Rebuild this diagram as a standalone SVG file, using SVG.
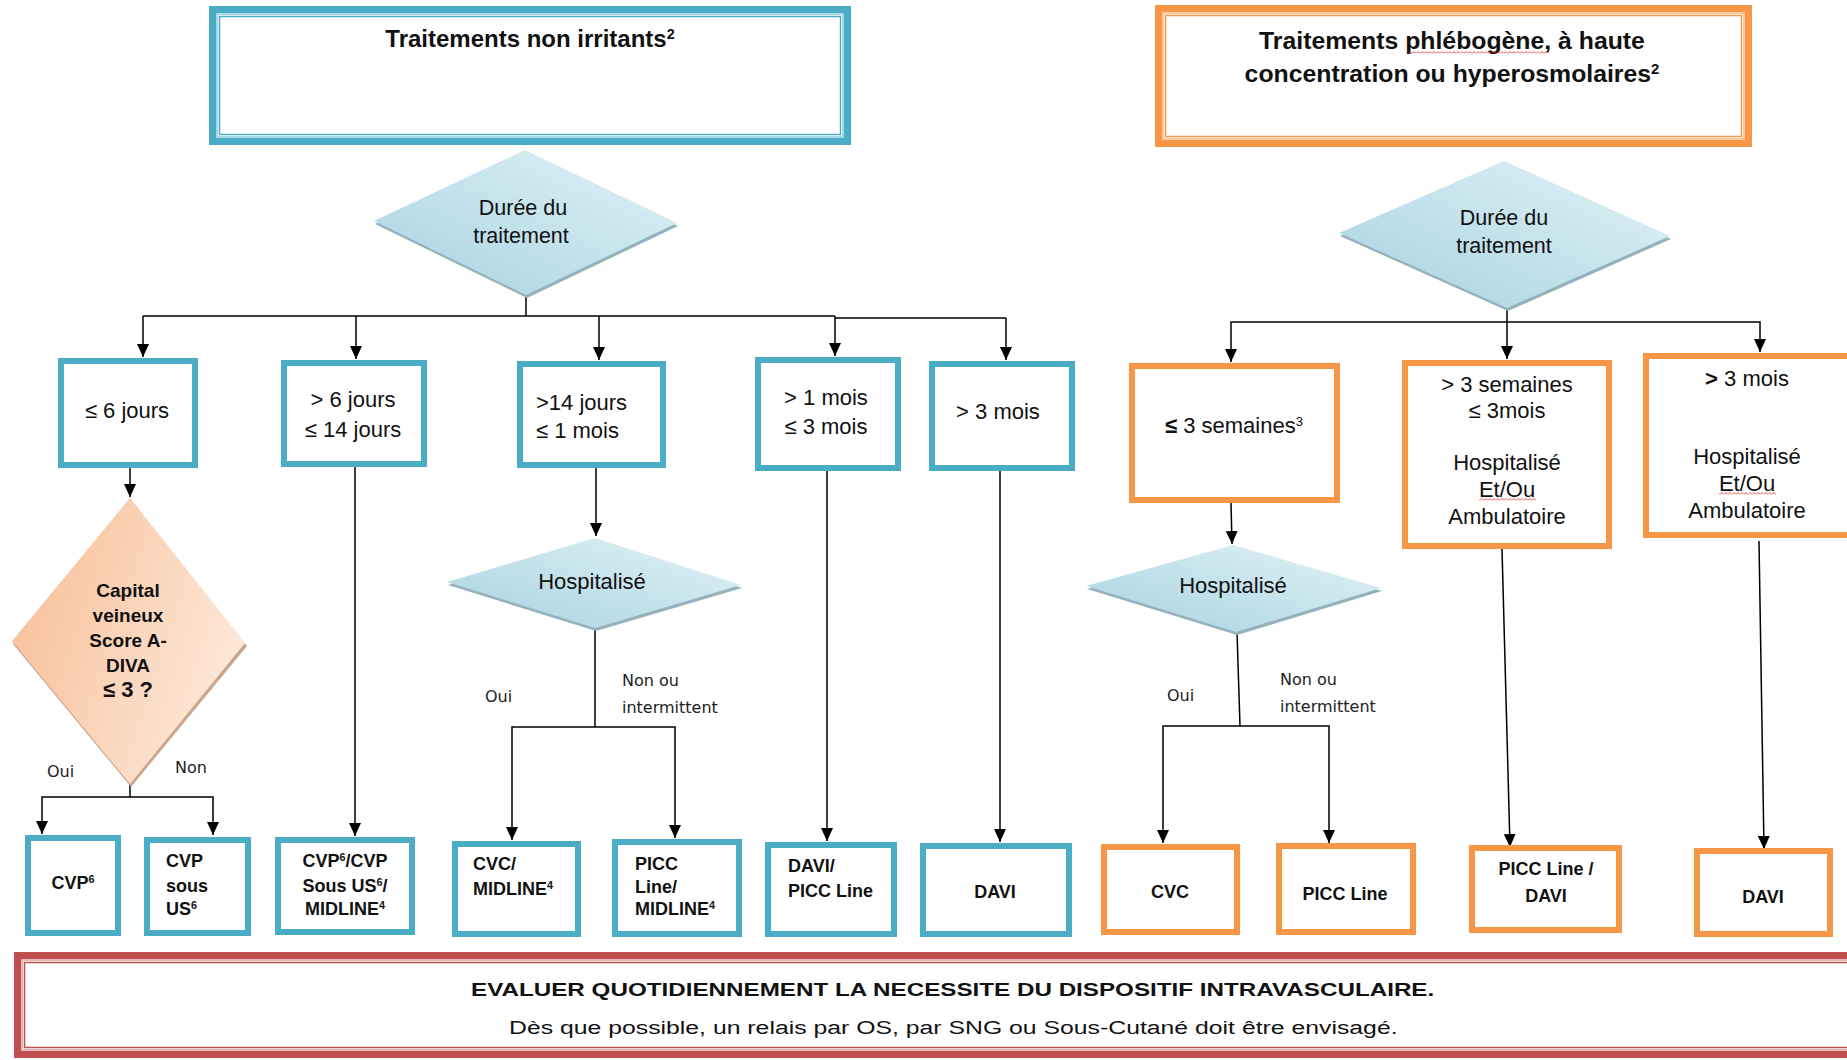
<svg xmlns="http://www.w3.org/2000/svg" width="1847" height="1060" viewBox="0 0 1847 1060">
<style>
.t{font-family:"Liberation Sans",Arial,sans-serif;fill:#111;text-anchor:middle}
.b{font-weight:bold}
.s{text-anchor:start}
.lbl{font-family:"DejaVu Sans",sans-serif;font-size:16px;fill:#222}
.bx{fill:#fff;stroke:#4BACC6;stroke-width:6}
.bo{fill:#fff;stroke:#F79646;stroke-width:6}
.con{fill:none;stroke:#000;stroke-width:1.5}
.arr{marker-end:url(#ah)}
.sup{font-size:60%;baseline-shift:super}
</style>
<defs>
<marker id="ah" markerUnits="userSpaceOnUse" markerWidth="13" markerHeight="12" viewBox="0 0 13 12" refX="13" refY="6" orient="auto">
<path d="M0,0 L13,6 L0,12 Z" fill="#000"/>
</marker>
<linearGradient id="gb" x1="0" y1="1" x2="1" y2="0">
<stop offset="0" stop-color="#A6D3E0"/><stop offset="1" stop-color="#E3F2F7"/>
</linearGradient>
<linearGradient id="gp" x1="0" y1="0.3" x2="1" y2="0.7">
<stop offset="0" stop-color="#F8C09A"/><stop offset="1" stop-color="#FDEBDD"/>
</linearGradient>
<pattern id="wave" width="4" height="3" patternUnits="userSpaceOnUse">
<path d="M0,2.5 L2,0.5 L4,2.5" fill="none" stroke="#E02020" stroke-width="0.8"/>
</pattern>
</defs>
<rect width="1847" height="1060" fill="#fff"/>

<g id="connectors">
<path class="con" d="M526,295 V316"/>
<path class="con" d="M143,316 H835 M835,318 H1006"/>
<path class="con arr" d="M143,316 V357"/>
<path class="con arr" d="M356,316 V359"/>
<path class="con arr" d="M599,316 V360"/>
<path class="con arr" d="M835,316 V356"/>
<path class="con arr" d="M1006,318 V360"/>
<path class="con arr" d="M130,468 V497"/>
<path class="con" d="M130,784 V797"/>
<path class="con arr" d="M130,797 H42 V834"/>
<path class="con arr" d="M130,797 H213 V835"/>
<path class="con arr" d="M355,467 V836"/>
<path class="con arr" d="M596,468 V536"/>
<path class="con" d="M595,628 V727"/>
<path class="con arr" d="M595,727 H512 V840"/>
<path class="con arr" d="M595,727 H675 V838"/>
<path class="con arr" d="M827,471 V841"/>
<path class="con arr" d="M1000,471 V842"/>
<path class="con" d="M1507,308 V322"/>
<path class="con arr" d="M1507,322 H1231 V362"/>
<path class="con arr" d="M1507,322 V359"/>
<path class="con arr" d="M1507,322 H1760 V352"/>
<path class="con arr" d="M1231,503 L1232,544"/>
<path class="con" d="M1237,632 L1240,726"/>
<path class="con arr" d="M1240,726 H1163 V843"/>
<path class="con arr" d="M1240,726 H1329 V843"/>
<path class="con arr" d="M1502,549 L1510,847"/>
<path class="con arr" d="M1759,541 L1764,849"/>
</g>

<g id="title-left">
<rect x="212.5" y="9.5" width="635" height="132" fill="#fff" stroke="#4BACC6" stroke-width="7"/>
<rect x="217" y="14" width="626" height="123" fill="none" stroke="#A9D8E5" stroke-width="2"/>
<rect x="219.5" y="16.5" width="621" height="118" fill="none" stroke="#4BACC6" stroke-width="1.5"/>
<text class="t b" x="530" y="47" font-size="24">Traitements non irritants<tspan class="sup">2</tspan></text>
</g>

<g id="title-right">
<rect x="1158.5" y="8.5" width="590" height="135" fill="#fff" stroke="#F79646" stroke-width="7"/>
<rect x="1163" y="13" width="581" height="126" fill="none" stroke="#FBC9A0" stroke-width="2"/>
<rect x="1165.5" y="15.5" width="576" height="121" fill="none" stroke="#F79646" stroke-width="1.5"/>
<text class="t b" x="1452" y="49" font-size="24.8">Traitements phlébogène, à haute</text>
<text class="t b" x="1452" y="82" font-size="24.8">concentration ou hyperosmolaires<tspan class="sup">2</tspan></text>
<rect x="1408" y="51" width="139" height="3" fill="url(#wave)"/>
</g>

<g id="duree-left">
<polygon points="525,153 678,226 527,298 375,224" fill="#95B2BC"/>
<polygon points="525,150 677,223 526,295 374,221" fill="url(#gb)"/>
<text class="t" x="523" y="215" font-size="21.5">Durée du</text>
<text class="t" x="521" y="243" font-size="21.5">traitement</text>
</g>

<g id="duree-right">
<polygon points="1504,164 1671,239 1508,311 1340,236" fill="#95B2BC"/>
<polygon points="1504,161 1670,236 1507,308 1339,233" fill="url(#gb)"/>
<text class="t" x="1504" y="225" font-size="21.5">Durée du</text>
<text class="t" x="1504" y="253" font-size="21.5">traitement</text>
</g>

<g id="le6j">
<rect class="bx" x="61" y="361" width="134" height="104"/>
<text class="t" x="127" y="418" font-size="22">≤ 6 jours</text>
</g>
<g id="gt6j">
<rect class="bx" x="284" y="363" width="140" height="101"/>
<text class="t" x="353" y="407" font-size="22">&gt; 6 jours</text>
<text class="t" x="353" y="437" font-size="22">≤ 14 jours</text>
</g>
<g id="gt14j">
<rect class="bx" x="520" y="364" width="143" height="101"/>
<text class="t s" x="536" y="410" font-size="22">&gt;14 jours</text>
<text class="t s" x="536" y="438" font-size="22">≤ 1 mois</text>
</g>
<g id="gt1m">
<rect class="bx" x="758" y="360" width="140" height="108"/>
<text class="t" x="826" y="405" font-size="22">&gt; 1 mois</text>
<text class="t" x="826" y="434" font-size="22">≤ 3 mois</text>
</g>
<g id="gt3m">
<rect class="bx" x="932" y="364" width="140" height="104"/>
<text class="t" x="998" y="419" font-size="22">&gt; 3 mois</text>
</g>

<g id="capital">
<polygon points="131,501 247,646 131,787 13,644" fill="#C9A68D"/>
<polygon points="130,498 245,643 130,784 12,641" fill="url(#gp)"/>
<text class="t b" x="128" y="597" font-size="19">Capital</text>
<text class="t b" x="128" y="622" font-size="19">veineux</text>
<text class="t b" x="128" y="647" font-size="19">Score A-</text>
<text class="t b" x="128" y="672" font-size="19">DIVA</text>
<text class="t b" x="128" y="697" font-size="22">≤ 3 ?</text>
<text class="lbl" x="47" y="777">Oui</text>
<text class="lbl" x="175" y="773">Non</text>
</g>

<g id="hosp-left">
<polygon points="596,541 742,588 596,631 448,585" fill="#95B2BC"/>
<polygon points="595,538 741,585 595,628 447,582" fill="url(#gb)"/>
<text class="t" x="592" y="589" font-size="22">Hospitalisé</text>
<text class="lbl" x="485" y="702">Oui</text>
<text class="lbl" x="622" y="686">Non ou</text>
<text class="lbl" x="622" y="713">intermittent</text>
</g>

<g id="le3s">
<rect class="bo" x="1132" y="366" width="205" height="134"/>
<text class="t" x="1234" y="433" font-size="22"><tspan font-weight="bold">≤</tspan> 3 semaines<tspan class="sup">3</tspan></text>
</g>
<g id="gt3s">
<rect class="bo" x="1405" y="363" width="204" height="183"/>
<text class="t" x="1507" y="392" font-size="22">&gt; 3 semaines</text>
<text class="t" x="1507" y="418" font-size="22">≤ 3mois</text>
<text class="t" x="1507" y="470" font-size="22">Hospitalisé</text>
<text class="t" x="1507" y="497" font-size="22">Et/Ou</text>
<text class="t" x="1507" y="524" font-size="22">Ambulatoire</text>
<rect x="1479" y="498" width="57" height="3" fill="url(#wave)"/>
</g>
<g id="gt3m-r">
<rect class="bo" x="1646" y="356" width="214" height="179"/>
<text class="t" x="1747" y="386" font-size="22"><tspan font-weight="bold">&gt;</tspan> 3 mois</text>
<text class="t" x="1747" y="464" font-size="22">Hospitalisé</text>
<text class="t" x="1747" y="491" font-size="22">Et/Ou</text>
<text class="t" x="1747" y="518" font-size="22">Ambulatoire</text>
<rect x="1719" y="492" width="57" height="3" fill="url(#wave)"/>
</g>

<g id="hosp-right">
<polygon points="1234,548 1382,591 1237,635 1087,589" fill="#95B2BC"/>
<polygon points="1233,545 1381,588 1236,632 1086,586" fill="url(#gb)"/>
<text class="t" x="1233" y="593" font-size="22">Hospitalisé</text>
<text class="lbl" x="1167" y="701">Oui</text>
<text class="lbl" x="1280" y="685">Non ou</text>
<text class="lbl" x="1280" y="712">intermittent</text>
</g>

<g id="cvp">
<rect class="bx" x="28" y="838" width="90" height="95"/>
<text class="t b" x="73" y="889" font-size="18">CVP<tspan class="sup">6</tspan></text>
</g>
<g id="cvp-us">
<rect class="bx" x="147" y="840" width="101" height="93"/>
<text class="t b s" x="166" y="867" font-size="18">CVP</text>
<text class="t b s" x="166" y="892" font-size="18">sous</text>
<text class="t b s" x="166" y="915" font-size="18">US<tspan class="sup">6</tspan></text>
</g>
<g id="cvp-mid">
<rect class="bx" x="278" y="840" width="134" height="92"/>
<text class="t b" x="345" y="867" font-size="18">CVP<tspan class="sup">6</tspan>/CVP</text>
<text class="t b" x="345" y="892" font-size="18">Sous US<tspan class="sup">6</tspan>/</text>
<text class="t b" x="345" y="915" font-size="18">MIDLINE<tspan class="sup">4</tspan></text>
</g>
<g id="cvc-mid">
<rect class="bx" x="455" y="844" width="123" height="90"/>
<text class="t b s" x="473" y="870" font-size="18">CVC/</text>
<text class="t b s" x="473" y="895" font-size="18">MIDLINE<tspan class="sup">4</tspan></text>
</g>
<g id="picc-mid">
<rect class="bx" x="615" y="842" width="124" height="92"/>
<text class="t b s" x="635" y="870" font-size="18">PICC</text>
<text class="t b s" x="635" y="893" font-size="18">Line/</text>
<text class="t b s" x="635" y="915" font-size="18">MIDLINE<tspan class="sup">4</tspan></text>
</g>
<g id="davi-picc">
<rect class="bx" x="768" y="845" width="126" height="89"/>
<text class="t b s" x="788" y="872" font-size="18">DAVI/</text>
<text class="t b s" x="788" y="897" font-size="18">PICC Line</text>
</g>
<g id="davi-l">
<rect class="bx" x="923" y="846" width="146" height="88"/>
<text class="t b" x="995" y="898" font-size="18">DAVI</text>
</g>
<g id="cvc-r">
<rect class="bo" x="1104" y="847" width="133" height="85"/>
<text class="t b" x="1170" y="898" font-size="18">CVC</text>
</g>
<g id="picc-r">
<rect class="bo" x="1279" y="846" width="134" height="86"/>
<text class="t b" x="1345" y="900" font-size="18">PICC Line</text>
</g>
<g id="picc-davi">
<rect class="bo" x="1472" y="848" width="147" height="82"/>
<text class="t b" x="1546" y="875" font-size="18">PICC Line /</text>
<text class="t b" x="1546" y="902" font-size="18">DAVI</text>
</g>
<g id="davi-r">
<rect class="bo" x="1697" y="851" width="133" height="83"/>
<text class="t b" x="1763" y="903" font-size="18">DAVI</text>
</g>

<g id="footer">
<rect x="17.5" y="955.5" width="1850" height="99" fill="#fff" stroke="#C0504D" stroke-width="7"/>
<rect x="22" y="960" width="1840" height="90" fill="none" stroke="#E8BBBA" stroke-width="2"/>
<rect x="24.5" y="962.5" width="1835" height="85" fill="none" stroke="#C0504D" stroke-width="1.5"/>
<text class="t b s" transform="translate(471,996) scale(1.275,1)" x="0" y="0" font-size="19">EVALUER QUOTIDIENNEMENT LA NECESSITE DU DISPOSITIF INTRAVASCULAIRE.</text>
<text class="t s" transform="translate(509,1034) scale(1.305,1)" x="0" y="0" font-size="19">Dès que possible, un relais par OS, par SNG ou Sous-Cutané doit être envisagé.</text>
</g>
</svg>
